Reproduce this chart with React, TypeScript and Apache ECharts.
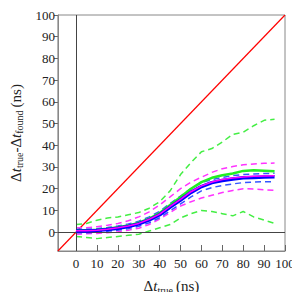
import React, { useEffect, useRef } from "react";
import * as echarts from "echarts";

const xs = [0, 5, 10, 15, 20, 25, 30, 35, 40, 45, 50, 55, 60, 65, 70, 75, 80, 85, 90, 95];
const tickValues = [0, 10, 20, 30, 40, 50, 60, 70, 80, 90, 100];
const axisMin = -8.7;
const axisMax = 100;

const blueMean = [0.5, 0.5, 0.8, 1.2, 1.8, 2.6, 3.8, 5.6, 8, 11.5, 14.8, 18.3, 21, 22.8, 23.8, 24.5, 25, 25.2, 25.4, 25.5];
const blueUpper = [1.3, 1.3, 1.6, 2.1, 2.8, 3.7, 5, 7, 9.6, 13.2, 16.6, 20, 22.8, 24.2, 25.2, 26, 26.5, 26.8, 27, 27.1];
const blueLower = [-0.3, -0.3, 0, 0.4, 0.9, 1.6, 2.7, 4.3, 6.6, 9.8, 13, 16.2, 19, 20.5, 21.5, 22.2, 22.8, 23, 23.2, 23.2];
const magentaMean = [0.6, 0.6, 0.9, 1.3, 2, 2.8, 4, 5.9, 8.3, 11.8, 15.1, 18.6, 21.3, 23.1, 24.2, 24.9, 25.4, 25.7, 25.9, 26];
const magentaUpper = [2, 2, 2.5, 3.2, 4, 5.2, 7, 9.3, 12.5, 16.2, 20, 23, 25.3, 27.5, 29.2, 30.2, 31, 31.4, 31.7, 31.8];
const magentaLower = [-1, -0.8, -0.6, -0.3, 0.2, 0.9, 1.8, 3.5, 6, 9, 12, 14, 15.7, 17, 18.2, 19.2, 20, 19.8, 19.5, 19.2];
const greenMean = [0.8, 0.8, 1.1, 1.5, 2.2, 3, 4.3, 6.2, 8.8, 12.5, 16.2, 20, 23, 25, 26.2, 27, 28.2, 28.5, 28.3, 28];
const greenUpper = [3.5, 4, 5.5, 6.5, 7, 8, 9, 11, 14, 19, 26.5, 32, 37, 38.5, 41.5, 45, 46, 49, 51.5, 52];
const greenLower = [-2, -2.5, -3, -2.5, -2, -1.5, -1, 0.5, 2, 3.5, 6.5, 8.5, 10, 9.5, 8.5, 7.5, 9.5, 7, 5.5, 4];
const diagonal = [axisMin, axisMax];

const FONT = "'Liberation Serif', 'Times New Roman', Times, serif";

function pts(ys: number[]) {
  return xs.map((x, i) => [x, ys[i]]);
}

function line(name: string, ys: number[], color: string, width: number, dashed: boolean, z: number) {
  return {
    name,
    type: "line",
    data: pts(ys),
    showSymbol: false,
    symbol: "none",
    z,
    lineStyle: { color, width, type: dashed ? [6, 4] : "solid" },
  };
}

const richName = {
  d: { fontFamily: FONT, fontSize: 15, color: "#222" },
  i: { fontFamily: FONT, fontSize: 15, fontStyle: "italic", color: "#222" },
  s: { fontFamily: FONT, fontSize: 10, color: "#222", padding: [8, 0, 0, 0] },
};

export default function App() {
  const ref = useRef<HTMLDivElement>(null);
  useEffect(() => {
    if (!ref.current) return;
    const chart = echarts.init(ref.current, undefined, { renderer: "svg" });
    const labelStyle = { fontFamily: FONT, fontSize: 13, color: "#222" };
    chart.setOption({
      animation: false,
      backgroundColor: "#fff",
      textStyle: { fontFamily: FONT },
      grid: { left: 45, right: 15, top: 15, bottom: 46, show: true, borderColor: "#888", borderWidth: 1 },
      xAxis: {
        type: "value",
        min: axisMin,
        max: axisMax,
        splitLine: { show: false },
        axisLine: { show: true, onZero: false, lineStyle: { color: "#888" } },
        axisTick: { show: true, inside: true, length: 6, customValues: tickValues, lineStyle: { color: "#666" } },
        axisLabel: { ...labelStyle, margin: 6, customValues: tickValues },
        name: "{d|Δ}{i|t}{s|true} {d|(ns)}",
        nameLocation: "middle",
        nameGap: 26,
        nameTextStyle: { rich: richName },
      },
      yAxis: {
        type: "value",
        min: axisMin,
        max: axisMax,
        splitLine: { show: false },
        axisLine: { show: true, onZero: false, lineStyle: { color: "#888" } },
        axisTick: { show: true, inside: false, length: 4, customValues: tickValues, lineStyle: { color: "#666" } },
        axisLabel: { ...labelStyle, margin: 3, customValues: tickValues },
        name: "{d|Δ}{i|t}{s|true}{d|-Δ}{i|t}{s|found} {d|(ns)}",
        nameLocation: "middle",
        nameGap: 30,
        nameTextStyle: { rich: richName },
      },
      series: [
        {
          name: "diag",
          type: "line",
          data: diagonal.map((v) => [v, v]),
          showSymbol: false,
          symbol: "none",
          z: 1,
          lineStyle: { color: "#ff0000", width: 1.2 },
          markLine: {
            silent: true,
            symbol: "none",
            label: { show: false },
            lineStyle: { color: "#444", width: 1, type: "solid" },
            data: [{ xAxis: 0 }, { yAxis: 0 }],
          },
        },
        line("greenUpper", greenUpper, "#44ee44", 1.5, true, 2),
        line("greenLower", greenLower, "#44ee44", 1.5, true, 2),
        line("magentaUpper", magentaUpper, "#ff33ff", 1.5, true, 2),
        line("magentaLower", magentaLower, "#ff33ff", 1.5, true, 2),
        line("blueUpper", blueUpper, "#3355ff", 1.5, true, 3),
        line("blueLower", blueLower, "#3355ff", 1.5, true, 3),
        line("greenMean", greenMean, "#22ee22", 2.5, false, 4),
        line("blueMean", blueMean, "#0000ff", 3.5, false, 5),
        line("magentaMean", magentaMean, "#ff00ff", 1.5, false, 6),
      ],
    });
    return () => chart.dispose();
  }, []);
  return <div ref={ref} style={{ width: 300, height: 300, margin: -8 }} />;
}
